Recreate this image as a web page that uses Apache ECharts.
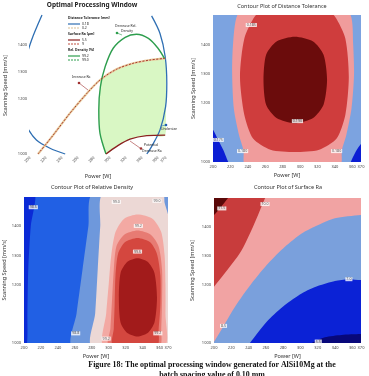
<!DOCTYPE html>
<html>
<head>
<meta charset="utf-8">
<script src="https://cdn.jsdelivr.net/npm/echarts@6/dist/echarts.min.js"></script>
<style>
html, body { margin: 0; padding: 0; background: #fff; }
#main { width: 369px; height: 376px; }
</style>
</head>
<body>
<div id="main"></div>
<script>
// tick labels (shared by the four panels)
var xTickLabels = [200, 220, 240, 260, 280, 300, 320, 340, 360, 370];
var yTickLabels = [1000, 1200, 1300, 1400];

// --- Optimal processing window (power W, speed mm/s) ---
var owDistLeft = [[215,1507],[202,1416],[192,1319],[188,1234],[189,1160],[196,1100],[208,1051],[225,1021],[244,1000]];
var owDistRight = [[352,1504],[362.5,1440],[369,1355],[371,1258],[369.5,1173],[362.5,1088],[352,1027],[346,1000]];
var owRa9 = [[210,1000],[229,1069],[250,1149],[271,1221],[287.5,1270],[308,1309],[329,1331],[350,1343],[369,1349]];
var owRa55 = [[295,1000],[308,1027],[325,1054],[346,1067],[369,1069]];
var owDens = [[295,1000],[287.5,1075],[286,1161],[288,1246],[294,1319],[304,1386],[319,1426],[333,1437],[348,1422],[360,1386],[368,1349]];
var owWindow = [[295,1000],[287.5,1075],[286,1161],[287.5,1240],[288.5,1272],[308,1309],[329,1331],[350,1343],[369,1349],[369,1069],[346,1067],[325,1054],[308,1027]];

// --- Distance tolerance contours ---
var dtLow = [[195,1125],[200,1110],[206,1075],[212,1040],[216,1010],[218,990],[195,990]];
var dtLowR = [[375,1070],[369,1058],[363,1030],[358,990],[375,990]];
var dt180 = [[292,1590],[335,1575],[358,1500],[361,1400],[362,1297],[359,1180],[353,1090],[348,1040],[346,990],[292,980],[237,990],[235,1040],[230,1090],[224,1180],[222,1297],[223,1400],[228,1500],[250,1575]];
var dt185 = [[294,1545],[325,1530],[340,1495],[352,1420],[356,1290],[352,1160],[342,1080],[322,1042],[294,1034],[266,1042],[246,1080],[236,1160],[231,1290],[236,1420],[248,1495],[263,1530]];
var dt190 = [[294,1426],[315,1410],[327,1365],[331,1279],[327,1195],[315,1150],[294,1132],[273,1150],[261,1195],[258,1279],[261,1365],[273,1410]];
var dtLabelPos = [[244,1466],[297,1139],[206,1075],[234,1037],[342,1037]];
var dtLabelText = ['0.185','0.190','0.175','0.180','0.180'];

// --- Relative density contours ---
var rdLow = [[195,1510],[213,1510],[208,1400],[205,1250],[204,1100],[203,990],[195,990]];
var rd988 = [[281,1510],[276,1400],[269,1250],[262,1100],[257,990],[380,990],[380,1510]];
var rd990 = [[293,1510],[290,1400],[287,1250],[284,1100],[280,990],[380,990],[380,1300],[372,1420],[366,1480],[364,1510]];
var rd992 = [[334,1440],[352,1425],[362,1380],[366,1300],[367,1200],[367,1100],[366,990],[294,990],[297,1100],[300,1200],[303,1300],[308,1380],[318,1425]];
var rd994 = [[334,1385],[350,1370],[359,1330],[363,1250],[363,1150],[362,1050],[360,990],[300,990],[302,1050],[304,1150],[306,1250],[309,1330],[318,1370]];
var rd996 = [[334,1360],[349,1345],[357,1305],[361,1230],[361,1130],[359,1050],[357,990],[305,990],[306,1050],[307,1130],[308,1230],[311,1305],[319,1345]];
var rd998 = [[334,1290],[346,1278],[354,1240],[357,1156],[354,1070],[346,1034],[334,1022],[322,1034],[314,1070],[312,1156],[314,1240],[322,1278]];
var rdLabelPos = [[211,1465],[261,1033],[309,1483],[357,1487],[335,1401],[334,1313],[297,1015],[358,1033]];
var rdLabelText = ['98.6','98.8','99.0','99.0','99.2','99.6','99.2','99.2'];

// --- Surface Ra contours ---
var raHigh2 = [[195,1510],[218,1510],[216,1499],[200,1441],[195,1436]];
var raHigh = [[195,1510],[261,1510],[259,1499],[245,1400],[230,1310],[200,1194],[195,1180]];
var raMid = [[195,1510],[375,1510],[375,1441],[369.6,1441],[339.9,1430],[320.6,1407],[301.4,1378],[282,1332],[262.8,1275],[243.6,1206],[224.3,1125],[200.4,1006],[195,995]];
var raLow = [[241.6,1000],[262.8,1079],[282,1131],[301.4,1171],[320.6,1197],[339.9,1214],[355.3,1220],[369.6,1217],[375,1217],[375,990],[240,990]];
var raLow2 = [[313,1000],[328.3,1020],[347.6,1028],[369.6,1031],[375,1031],[375,990],[312,990]];
var raLabelPos = [[209,1464],[259,1479],[211,1059],[356,1220],[320.6,1005]];
var raLabelText = ['11.5','10.0','8.5','7.0','5.5'];

var FONT = 'Noto Sans';
var myChart = echarts.init(document.getElementById('main'), null, { renderer: 'canvas' });

function region(idx, pts, color) {
	return {
		type: 'custom', xAxisIndex: idx, yAxisIndex: idx, clip: true, silent: true,
		data: [pts[0]],
		renderItem: function (params, api) {
			return {
				type: 'polygon',
				shape: { points: pts.map(function (p) { return api.coord(p); }), smooth: 0.25 },
				style: { fill: color }
			};
		}
	};
}

function curve(idx, pts, color, width, dash, z) {
	return {
		type: 'line', xAxisIndex: idx, yAxisIndex: idx, data: pts, smooth: 0.3,
		symbol: 'none', clip: false, silent: true, z: z || 3,
		lineStyle: { color: color, width: width, type: dash || 'solid' }
	};
}

function labels(idx, pos, txt) {
	return {
		type: 'scatter', xAxisIndex: idx, yAxisIndex: idx, symbolSize: 0, silent: true, z: 10,
		data: pos.map(function (p, i) { return { value: p, name: txt[i] }; }),
		label: {
			show: true, position: 'inside', formatter: '{b}', fontSize: 3.6, fontFamily: FONT,
			color: '#333', backgroundColor: '#fff', padding: [0, 1]
		}
	};
}

function xAxis(idx, rotate) {
	return {
		type: 'value', gridIndex: idx, min: 200, max: 370, interval: 20,
		name: 'Power [W]', nameLocation: 'middle', nameGap: rotate ? 19 : 10,
		nameTextStyle: { fontSize: 5.5, fontFamily: FONT, color: '#333' },
		axisLine: { show: false }, axisTick: { show: false }, splitLine: { show: false },
		axisLabel: {
			fontSize: 4, fontFamily: FONT, color: '#444', margin: 3, rotate: rotate || 0,
			showMaxLabel: true,
			formatter: function (v) { return xTickLabels.indexOf(v) >= 0 ? String(v) : ''; }
		}
	};
}

function yAxis(idx, gap) {
	return {
		type: 'value', gridIndex: idx, min: 1000, max: 1500, interval: 100,
		name: 'Scanning Speed [mm/s]', nameLocation: 'middle', nameGap: gap,
		nameTextStyle: { fontSize: 5.5, fontFamily: FONT, color: '#333' },
		axisLine: { show: false }, axisTick: { show: false }, splitLine: { show: false },
		axisLabel: {
			fontSize: 4, fontFamily: FONT, color: '#444', margin: 3,
			formatter: function (v) { return yTickLabels.indexOf(v) >= 0 ? String(v) : ''; }
		}
	};
}

function txt(x, y, s, size, opts) {
	opts = opts || {};
	return {
		type: 'text', x: x, y: y, z: 20, silent: true,
		style: {
			text: s, fill: opts.color || '#222', align: opts.align || 'left', verticalAlign: 'middle',
			font: (opts.weight || 'normal') + ' ' + size + 'px ' + (opts.family || FONT)
		}
	};
}

function seg(x1, y1, x2, y2, color, w, dash) {
	return {
		type: 'line', z: 20, silent: true, shape: { x1: x1, y1: y1, x2: x2, y2: y2 },
		style: { stroke: color, lineWidth: w, lineDash: dash || null }
	};
}

function dot(x, y, color) {
	return { type: 'circle', z: 21, silent: true, shape: { cx: x, cy: y, r: 1.3 }, style: { fill: color } };
}

var graphics = [
	txt(92, 5, 'Optimal Processing Window', 6.5, { align: 'center', weight: 'bold' }),
	txt(282, 6, 'Contour Plot of Distance Tolerance', 5.5, { align: 'center', color: '#333' }),
	txt(92, 187, 'Contour Plot of Relative Density', 5.5, { align: 'center', color: '#333' }),
	txt(288, 187, 'Contour Plot of Surface Ra', 5.5, { align: 'center', color: '#333' }),
	// legend of the window plot
	txt(68, 18, 'Distance Tolerance [mm]', 3.4, { weight: 'bold' }),
	seg(68, 24, 80, 24, '#2f6fb3', 1.2), txt(82, 24, '0.18', 3.4),
	seg(68, 28, 80, 28, '#d8c098', 1.2, [2, 1]), txt(82, 28, '0.2', 3.4),
	txt(68, 34, 'Surface Ra [\u00b5m]', 3.4, { weight: 'bold' }),
	seg(68, 40, 80, 40, '#8b2020', 1.2), txt(82, 40, '5.5', 3.4),
	seg(68, 44, 80, 44, '#c05040', 1.2, [2, 1]), txt(82, 44, '9', 3.4),
	txt(68, 50, 'Rel. Density [%]', 3.4, { weight: 'bold' }),
	seg(68, 56, 80, 56, '#2e9e4e', 1.2), txt(82, 56, '99.2', 3.4),
	seg(68, 60, 80, 60, '#2e9e4e', 1.2, [2, 1]), txt(82, 60, '99.0', 3.4),
	// annotations
	txt(115, 26, 'Decrease Rel.', 3.4), txt(121, 31, 'Density', 3.4),
	seg(122, 35, 117, 33, '#2e9e4e', 0.6), dot(117, 33, '#2e9e4e'),
	txt(72, 77, 'Increase Ra', 3.4),
	seg(88, 90, 79, 83, '#a03030', 0.6), dot(79, 83, '#a03030'),
	txt(161, 129, 'Undersize', 3.4),
	seg(161, 126, 166, 125, '#2f6fb3', 0.6), dot(166, 125, '#1f5fb0'),
	txt(144, 145, 'Potential', 3.4), txt(142, 151, 'Decrease Ra', 3.4),
	seg(130, 141, 140, 148, '#a03030', 0.6), dot(141, 148.5, '#a03030'),
	// caption
	txt(212, 365, 'Figure 18: The optimal processing window generated for AlSi10Mg at the', 7.9,
		{ align: 'center', weight: 'bold', family: 'Liberation Serif', color: '#111' }),
	txt(212, 375, 'batch spacing value of 0.10 mm', 7.9,
		{ align: 'center', weight: 'bold', family: 'Liberation Serif', color: '#111' })
];

myChart.setOption({
	animation: false,
	backgroundColor: '#fff',
	grid: [
		{ left: 30, top: 17, width: 136, height: 137 },
		{ left: 213, top: 15, width: 148, height: 147, show: true, backgroundColor: '#7ca3e0', borderWidth: 0 },
		{ left: 21, top: 197, width: 147, height: 146, show: true, backgroundColor: '#2160e4', borderWidth: 0 },
		{ left: 214, top: 198, width: 147, height: 145, show: true, backgroundColor: '#7aa0dc', borderWidth: 0 }
	],
	xAxis: [xAxis(0, 45), xAxis(1), xAxis(2), xAxis(3)],
	yAxis: [yAxis(0, 22), yAxis(1, 17), yAxis(2, 17), yAxis(3, 19)],
	series: [
		// window plot
		region(0, owWindow, '#d9f7c4'),
		curve(0, owDistLeft, '#2f6fb3', 1.3),
		curve(0, owDistRight, '#2f6fb3', 1.3),
		curve(0, owRa9, '#e8cc9e', 2.2, 'solid', 3),
		curve(0, owRa9, '#a83a30', 1, [2, 1.5], 4),
		curve(0, owDens, '#2e9e4e', 1.4),
		curve(0, owRa55, '#8b2020', 1.4),
		// distance tolerance
		region(1, dtLow, '#0b1ed4'),
		region(1, dtLowR, '#0b1ed4'),
		region(1, dt180, '#f09c9c'),
		region(1, dt185, '#cf3d3d'),
		region(1, dt190, '#6b0c0c'),
		labels(1, dtLabelPos, dtLabelText),
		// relative density
		region(2, rdLow, '#0a2ad6'),
		region(2, rd988, '#6e98dc'),
		region(2, rd990, '#ecd8d5'),
		region(2, rd992, '#f3a9a3'),
		region(2, rd994, '#e77b73'),
		region(2, rd996, '#d4473f'),
		region(2, rd998, '#a21b1b'),
		labels(2, rdLabelPos, rdLabelText),
		// surface Ra
		region(3, raMid, '#f1a3a3'),
		region(3, raHigh, '#c83c3c'),
		region(3, raHigh2, '#5a0808'),
		region(3, raLow, '#0b22d6'),
		region(3, raLow2, '#08087a'),
		labels(3, raLabelPos, raLabelText)
	],
	graphic: graphics
});
</script>
</body>
</html>
